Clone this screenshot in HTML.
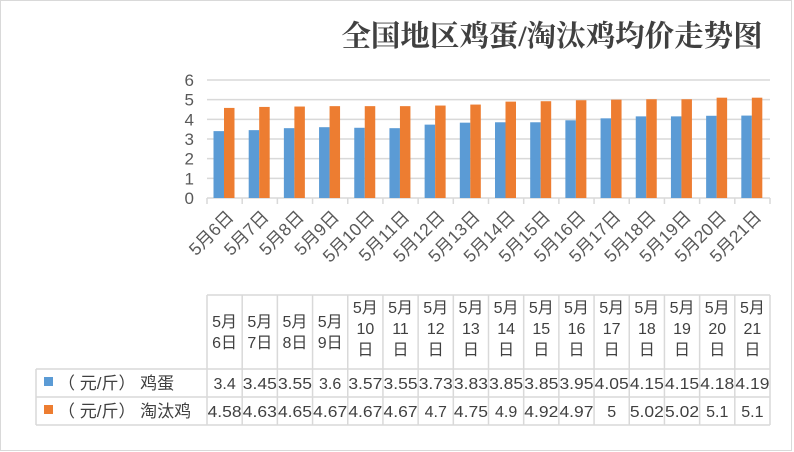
<!DOCTYPE html>
<html><head><meta charset="utf-8"><style>
body{margin:0;background:#fff}
svg{display:block;font-family:"Liberation Sans","Noto Sans CJK SC",sans-serif}
</style></head><body>
<svg id="c" width="794" height="452" viewBox="0 0 794 452">
<rect x="0.5" y="0.5" width="791" height="450" fill="#fff" stroke="#d9d9d9"/>
<text x="552" y="46" text-anchor="middle" font-family="'Liberation Serif','Noto Serif CJK SC',serif" font-weight="bold" font-size="29.5" fill="#404040">全国地区鸡蛋/淘汰鸡均价走势图</text>
<g id="g"></g>
</svg>
<script>
const categories=[6,7,8,9,10,11,12,13,14,15,16,17,18,19,20,21];
const eggValues=[3.4,3.45,3.55,3.6,3.57,3.55,3.73,3.83,3.85,3.85,3.95,4.05,4.15,4.15,4.18,4.19];
const henValues=[4.58,4.63,4.65,4.67,4.67,4.67,4.7,4.75,4.9,4.92,4.97,5,5.02,5.02,5.1,5.1];
const yTicks=[0,1,2,3,4,5,6];
const eggLabels=["3.4","3.45","3.55","3.6","3.57","3.55","3.73","3.83","3.85","3.85","3.95","4.05","4.15","4.15","4.18","4.19"];
const henLabels=["4.58","4.63","4.65","4.67","4.67","4.67","4.7","4.75","4.9","4.92","4.97","5","5.02","5.02","5.1","5.1"];
const NS="http://www.w3.org/2000/svg",g=document.getElementById('g');
const x0=207,x1=770,cw=(x1-x0)/categories.length;
const y=v=>198-v*19.67;
function mk(t,a,txt){const e=document.createElementNS(NS,t);for(const k in a)e.setAttribute(k,a[k]);if(txt!=null)e.textContent=txt;g.appendChild(e);return e;}
yTicks.forEach(v=>{
 const l=mk('line',{x1:x0,x2:x1,y1:y(v),y2:y(v),stroke:'#d9d9d9','stroke-width':1.5});
 
 
 const t=mk('text',{x:194,y:y(v)+6,'text-anchor':'end','font-size':17,fill:'#595959'},v);
 
 
});
for(let i=0;i<=categories.length;i++){
 const l=mk('line',{x1:x0+i*cw,x2:x0+i*cw,y1:198,y2:204,stroke:'#d9d9d9','stroke-width':1.5});
 
 
}
categories.forEach((d,i)=>{
 const cx=x0+i*cw;
 const b=mk('rect',{x:cx+6.5,y:y(eggValues[i]),width:10.5,height:198-y(eggValues[i]),fill:'#5b9bd5'});
 
 
 const o=mk('rect',{x:cx+17,y:y(henValues[i]),width:10.5,height:198-y(henValues[i]),fill:'#ed7d31'});
 
 
 const lx=cx+cw/2+10,ly=218;
 const t=mk('text',{x:lx,y:ly,'text-anchor':'end','font-size':17.5,fill:'#595959',transform:`rotate(-45 ${lx} ${ly})`},'5月'+d+'日');
 
 
});
const tc='#d9d9d9';
const ty0=295,ty1=369,ty2=397,ty3=425,lx0=36;
[[x0,ty0,x1,ty0],[lx0,ty1,x1,ty1],[lx0,ty2,x1,ty2],[lx0,ty3,x1,ty3],[lx0,ty1,lx0,ty3]].forEach(p=>{
 const l=mk('line',{x1:p[0],y1:p[1],x2:p[2],y2:p[3],stroke:tc,'stroke-width':1.5});
 
 
});
for(let i=0;i<=categories.length;i++){
 const l=mk('line',{x1:x0+i*cw,x2:x0+i*cw,y1:ty0,y2:ty3,stroke:tc,'stroke-width':1.5});
 
 
}
categories.forEach((d,i)=>{
 const cx=x0+i*cw+cw/2;
 const lines=d<10?['5月',d+'日']:['5月',''+d,'日'];
 const sy=d<10?327:313;
 lines.forEach((s,j)=>{
  const t=mk('text',{x:cx,y:sy+j*21,'text-anchor':'middle','font-size':16,fill:'#404040'},s);
  
  
 });
 const a=mk('text',{x:cx,y:389,'text-anchor':'middle','font-size':16,fill:'#404040'},eggLabels[i]);
 if(eggLabels[i].length>3){a.setAttribute('textLength',34);a.setAttribute('lengthAdjust','spacingAndGlyphs');}
 
 
 const b=mk('text',{x:cx,y:417,'text-anchor':'middle','font-size':16,fill:'#404040'},henLabels[i]);
 if(henLabels[i].length>3){b.setAttribute('textLength',34);b.setAttribute('lengthAdjust','spacingAndGlyphs');}
 
 
});
[['#5b9bd5','（ 元/斤） 鸡蛋',389,'legend-egg'],['#ed7d31','（ 元/斤） 淘汰鸡',417,'legend-hen']].forEach(r=>{
 const k=mk('rect',{x:44,y:r[2]-12,width:9,height:9,fill:r[0]});
 
 
 const t=mk('text',{x:58,y:r[2],'font-size':17,fill:'#404040'},r[1]);
 
 
});
</script>
</body></html>
